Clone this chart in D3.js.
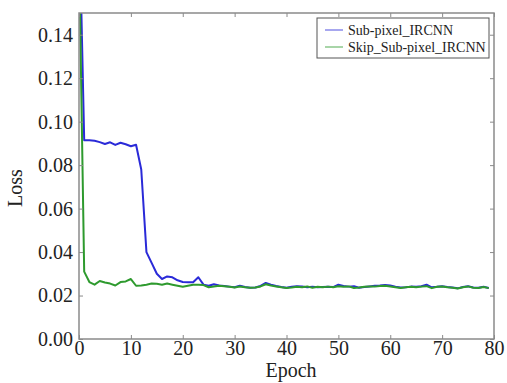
<!DOCTYPE html>
<html>
<head>
<meta charset="utf-8">
<script src="https://cdn.jsdelivr.net/npm/d3@7"></script>
<style>
  html, body { margin: 0; padding: 0; background: #fff; }
  svg { display: block; }
</style>
</head>
<body>
<svg id="chart" width="507" height="383"></svg>
<script>
const epochs = d3.range(0, 80);
const subPixel = [
  0.2000, 0.0915, 0.0915, 0.0912, 0.0906, 0.0897, 0.0905, 0.0893, 0.0903, 0.0896,
  0.0887, 0.0894, 0.0780, 0.0400, 0.0350, 0.0300, 0.0276, 0.0288, 0.0284, 0.0270,
  0.0262, 0.0261, 0.0261, 0.0284, 0.0250, 0.0245, 0.0252, 0.0246, 0.0244, 0.0241,
  0.0238, 0.0245, 0.0239, 0.0236, 0.0237, 0.0244, 0.0258, 0.0250, 0.0244, 0.0239,
  0.0236, 0.0241, 0.0243, 0.0242, 0.0238, 0.0240, 0.0238, 0.0239, 0.0240, 0.0239,
  0.0250, 0.0244, 0.0241, 0.0243, 0.0236, 0.0239, 0.0242, 0.0245, 0.0246, 0.0248,
  0.0246, 0.0240, 0.0237, 0.0238, 0.0241, 0.0240, 0.0243, 0.0250, 0.0238, 0.0240,
  0.0243, 0.0239, 0.0237, 0.0233, 0.0239, 0.0243, 0.0237, 0.0236, 0.0240, 0.0235
];
const skipSubPixel = [
  0.1800, 0.0310, 0.0262, 0.0250, 0.0267, 0.0260, 0.0255, 0.0246, 0.0262, 0.0265,
  0.0276, 0.0245, 0.0246, 0.0250, 0.0255, 0.0254, 0.0250, 0.0255, 0.0250, 0.0245,
  0.0240, 0.0245, 0.0250, 0.0250, 0.0248, 0.0238, 0.0242, 0.0245, 0.0243, 0.0240,
  0.0237, 0.0242, 0.0238, 0.0236, 0.0237, 0.0242, 0.0252, 0.0246, 0.0242, 0.0238,
  0.0235, 0.0237, 0.0240, 0.0238, 0.0242, 0.0236, 0.0240, 0.0238, 0.0241, 0.0238,
  0.0243, 0.0240, 0.0242, 0.0235, 0.0237, 0.0240, 0.0242, 0.0241, 0.0244, 0.0245,
  0.0242, 0.0238, 0.0235, 0.0238, 0.0240, 0.0238, 0.0241, 0.0243, 0.0234, 0.0240,
  0.0242, 0.0238, 0.0236, 0.0232, 0.0238, 0.0242, 0.0236, 0.0235, 0.0239, 0.0234
];
const seriesNames = ["Sub-pixel_IRCNN", "Skip_Sub-pixel_IRCNN"];
const seriesColors = ["#2a2ad8", "#2e9a2e"];
const xTicks = [0, 10, 20, 30, 40, 50, 60, 70, 80];
const yTicks = [0.00, 0.02, 0.04, 0.06, 0.08, 0.10, 0.12, 0.14];

const FONT = "'Liberation Serif', 'Times New Roman', serif";
const svg = d3.select("#chart");
const m = { left: 79, right: 494, top: 13, bottom: 339 };
const x = d3.scaleLinear().domain([0, 80]).range([m.left, m.right]);
const y = d3.scaleLinear().domain([0, 0.15]).range([m.bottom, m.top]);
const axisColor = "#8a8a8a";

svg.append("defs").append("clipPath").attr("id", "clip")
  .append("rect").attr("x", m.left).attr("y", m.top)
  .attr("width", m.right - m.left).attr("height", m.bottom - m.top);

// Lines
const series = [subPixel, skipSubPixel];
const line = d3.line().x((d, i) => x(epochs[i])).y(d => y(d));
series.forEach((s, k) => {
  svg.append("path").datum(s)
    .attr("clip-path", "url(#clip)")
    .attr("fill", "none")
    .attr("stroke", seriesColors[k])
    .attr("stroke-width", 2)
    .attr("stroke-linejoin", "round")
    .attr("d", line);
});

// Axes (ticks inward on all four sides)
const tickLen = 4;
const bottomAxis = d3.axisBottom(x).tickValues(xTicks).tickSize(-tickLen).tickPadding(2).tickFormat(d3.format("d"));
const topAxis = d3.axisTop(x).tickValues(xTicks).tickSize(-tickLen).tickFormat("");
const leftAxis = d3.axisLeft(y).tickValues(yTicks).tickSize(-tickLen).tickPadding(6).tickFormat(d3.format(".2f"));
const rightAxis = d3.axisRight(y).tickValues(yTicks).tickSize(-tickLen).tickFormat("");

function style(g) {
  g.attr("font-family", null).attr("font-size", null);
  g.selectAll(".domain").remove();
  g.selectAll(".tick line").attr("stroke", axisColor);
  g.selectAll(".tick text").style("font-size", "20px").style("font-family", FONT).style("fill", "#222");
}
svg.append("g").attr("transform", `translate(0,${m.bottom})`).call(bottomAxis).call(style);
svg.append("g").attr("transform", `translate(0,${m.top})`).call(topAxis).call(style);
svg.append("g").attr("transform", `translate(${m.left},0)`).call(leftAxis).call(style);
svg.append("g").attr("transform", `translate(${m.right},0)`).call(rightAxis).call(style);

svg.append("rect").attr("x", m.left).attr("y", m.top)
  .attr("width", m.right - m.left).attr("height", m.bottom - m.top)
  .attr("fill", "none").attr("stroke", axisColor).attr("stroke-width", 1.5);

// Axis labels
svg.append("text").attr("x", 291).attr("y", 377).attr("text-anchor", "middle")
  .style("font-family", FONT).style("font-size", "20px").style("fill", "#222").text("Epoch");
svg.append("text").attr("transform", "translate(22,188) rotate(-90)")
  .attr("text-anchor", "middle")
  .style("font-family", FONT).style("font-size", "20px").style("fill", "#222").text("Loss");

// Legend
const lg = svg.append("g");
lg.append("rect").attr("x", 317).attr("y", 18).attr("width", 172).attr("height", 40)
  .attr("fill", "#fff").attr("stroke", "#555").attr("stroke-width", 1);
seriesNames.forEach((name, k) => {
  const ly = 30 + k * 17;
  lg.append("line").attr("x1", 325).attr("x2", 343).attr("y1", ly).attr("y2", ly)
    .attr("stroke", seriesColors[k]).attr("stroke-opacity", 0.55).attr("stroke-width", 1.5);
  lg.append("text").attr("x", 348).attr("y", ly + 5)
    .style("font-family", FONT).style("font-size", "14px").style("fill", "#222").text(name);
});
</script>
</body>
</html>
